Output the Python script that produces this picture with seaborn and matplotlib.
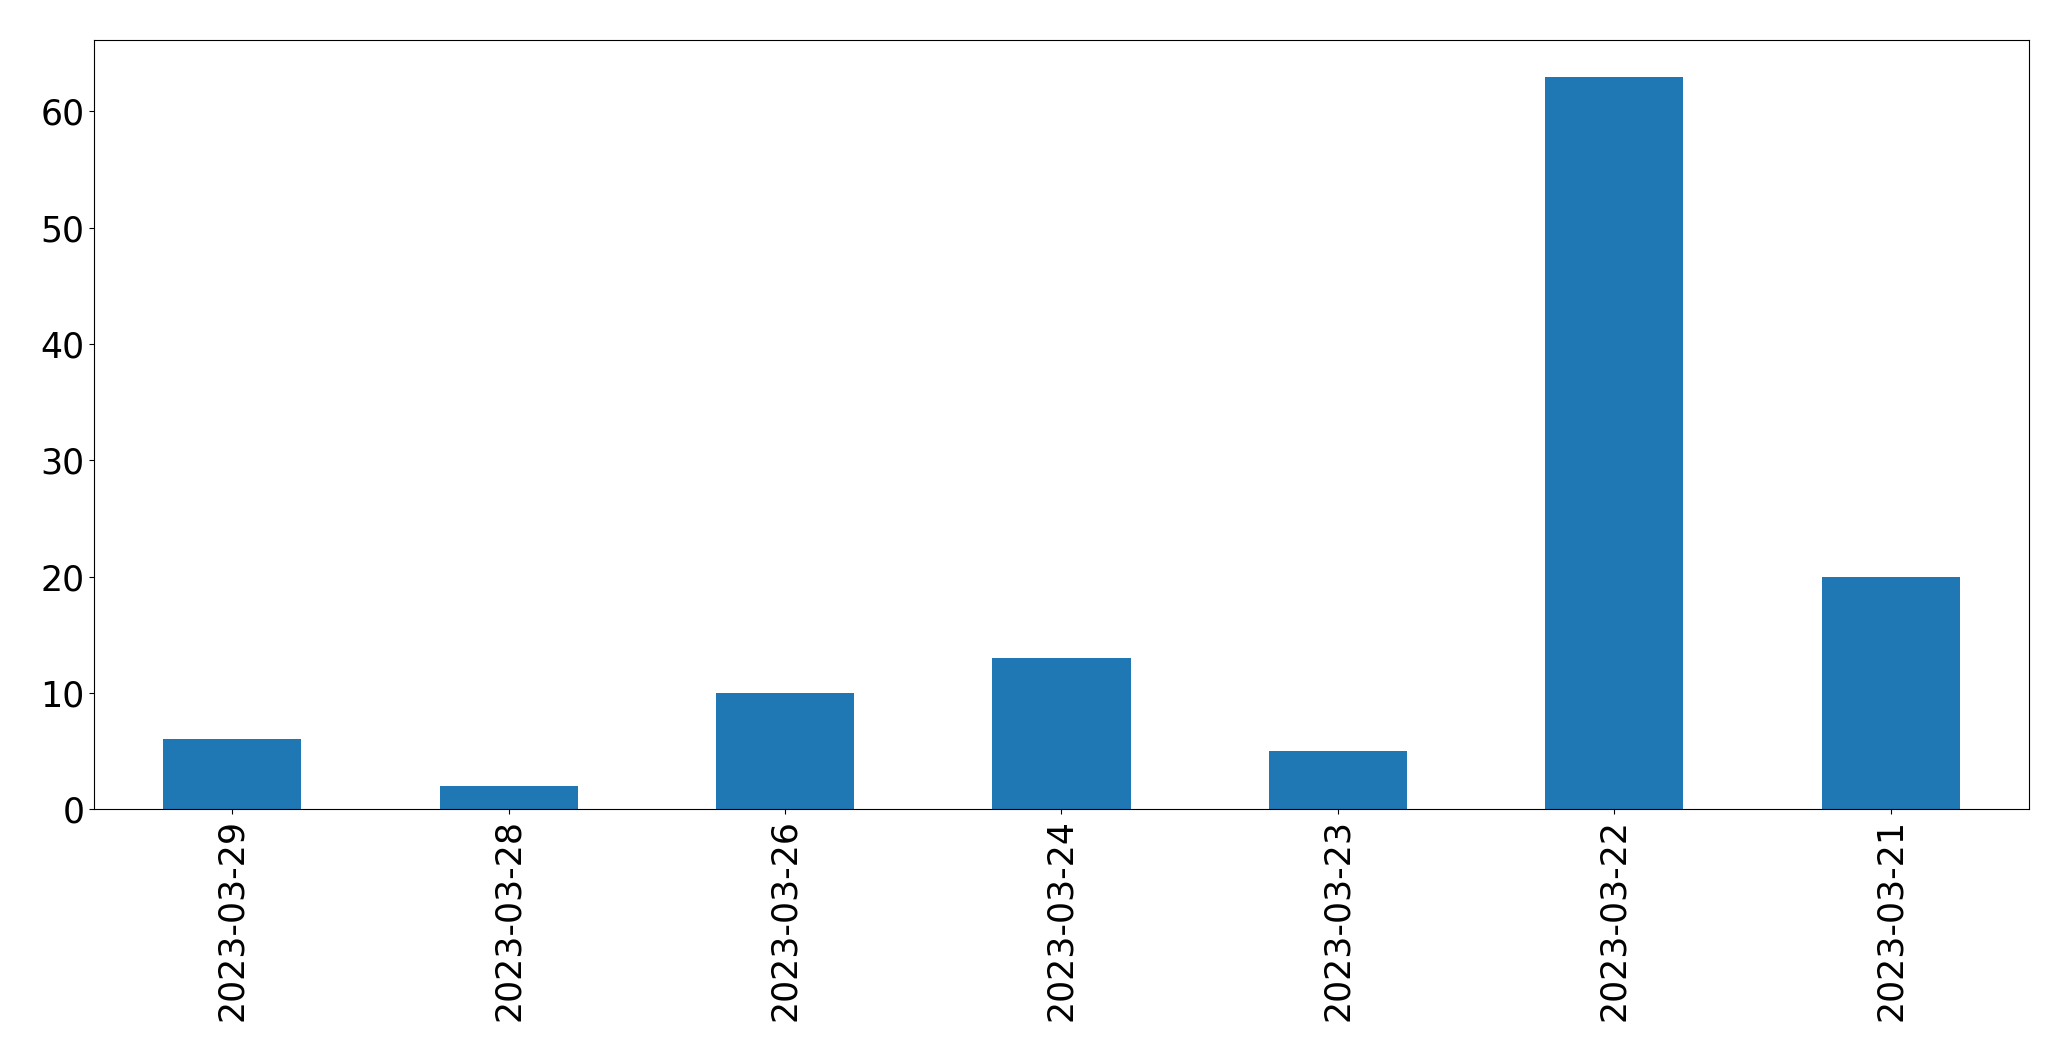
import matplotlib
matplotlib.use('Agg')
import matplotlib.pyplot as plt
import seaborn as sns
import pandas as pd

# daily counts, in the order shown on the chart
dates = ['2023-03-29', '2023-03-28', '2023-03-26', '2023-03-24',
         '2023-03-23', '2023-03-22', '2023-03-21']
counts = [6, 2, 10, 13, 5, 63, 20]

df = pd.DataFrame({'date': dates, 'count': counts})

fig = plt.figure(figsize=(20.71, 10.61), dpi=100)
ax = fig.add_axes([0.0454, 0.2375, 0.9343, 0.7248])

sns.barplot(data=df, x='date', y='count', color='#1f77b4', saturation=1,
            width=0.5, linewidth=0, ax=ax)

ax.set_xlim(-0.5, len(dates) - 0.5)
ax.set_ylim(0, max(counts) * 1.05)
ax.set_xlabel('')
ax.set_ylabel('')
ax.tick_params(axis='both', labelsize=25)
plt.setp(ax.get_xticklabels(), rotation=90)

fig.savefig('out.png', dpi=100)
